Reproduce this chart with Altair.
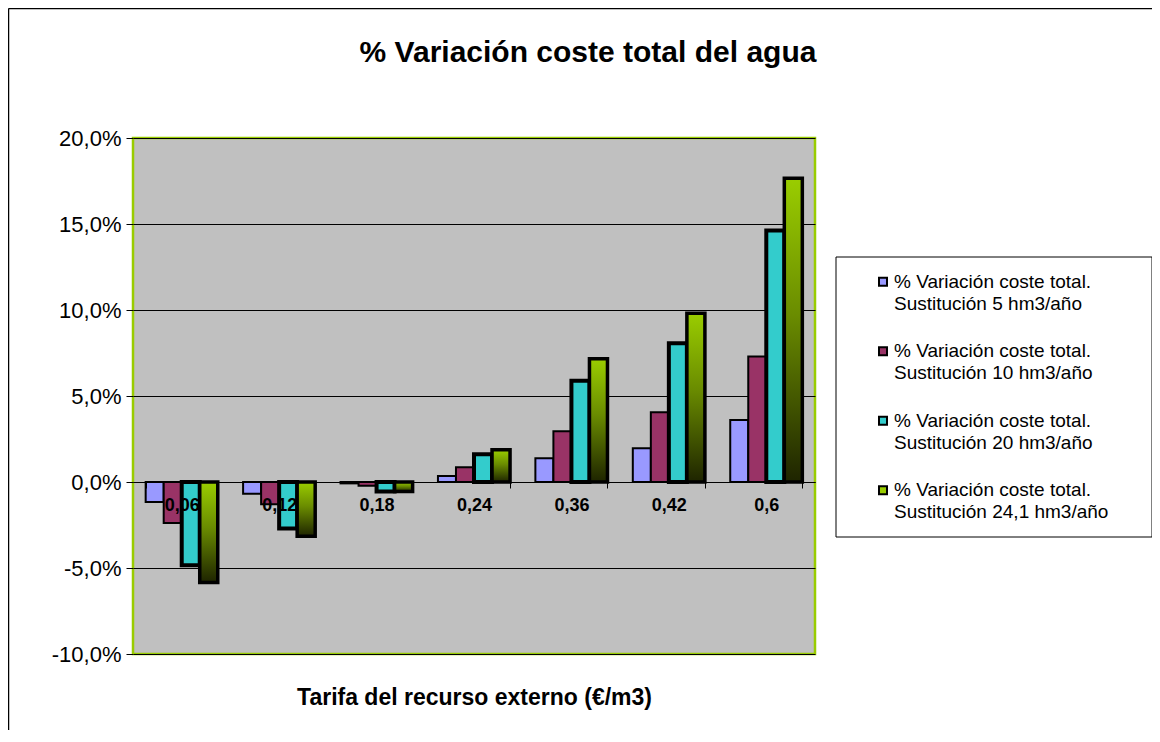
import altair as alt
import pandas as pd

# ---- data ----
tarifas = ["0,06", "0,12", "0,18", "0,24", "0,36", "0,42", "0,6"]
series = [
    "% Variación coste total. Sustitución 5 hm3/año",
    "% Variación coste total. Sustitución 10 hm3/año",
    "% Variación coste total. Sustitución 20 hm3/año",
    "% Variación coste total. Sustitución 24,1 hm3/año",
]
legend_text = [
    "% Variación coste total.|Sustitución 5 hm3/año",
    "% Variación coste total.|Sustitución 10 hm3/año",
    "% Variación coste total.|Sustitución 20 hm3/año",
    "% Variación coste total.|Sustitución 24,1 hm3/año",
]
s5 = [-1.16, -0.68, -0.08, 0.35, 1.38, 1.96, 3.60]
s10 = [-2.38, -1.30, -0.22, 0.86, 2.95, 4.06, 7.30]
s20 = [-4.84, -2.70, -0.55, 1.62, 5.88, 8.07, 14.62]
s24 = [-5.84, -3.15, -0.55, 1.87, 7.16, 9.81, 17.66]
y_ticks = [-0.10, -0.05, 0.0, 0.05, 0.10, 0.15, 0.20]

colors = ["#9999FF", "#993366", "#33CCCC", "#99CC00"]

rows = []
for name, vals in zip(series, [s5, s10, s20, s24]):
    for t, v in zip(tarifas, vals):
        rows.append({"tarifa": t, "serie": name, "valor": v / 100.0})
df = pd.DataFrame(rows)
leg = pd.DataFrame({"serie": series, "texto": legend_text, "orden": list(range(len(series)))})

FONT = "Liberation Sans"
W, H = 682, 516

x_axis = alt.Axis(
    title="Tarifa del recurso externo (€/m3)",
    orient="bottom",
    offset=-172,
    labelAngle=0,
    labelFont=FONT,
    labelFontSize=18,
    labelFontWeight="bold",
    labelColor="black",
    labelPadding=8,
    domainColor="black",
    domainWidth=1,
    tickColor="black",
    tickSize=6,
    tickBand="extent",
    titleFont=FONT,
    titleFontSize=23,
    titleFontWeight="bold",
    titleColor="black",
    titleY=215,
    titleBaseline="middle",
    zindex=1,
)
x_scale = alt.Scale(paddingInner=0.26, paddingOuter=0.13)
xoff_enc = alt.XOffset("serie:N", sort=series, scale=alt.Scale(domain=series, paddingInner=0))
y_scale = alt.Scale(domain=[-0.10, 0.20], nice=False, zero=False)
color_enc = alt.Color("serie:N", scale=alt.Scale(domain=series, range=colors), legend=None)

label_expr = "replace(replace(format(datum.value, '.1%'), '.', ','), '\u2212', '-')"

y_axis = alt.Axis(
    title=None,
    values=y_ticks,
    labelExpr=label_expr,
    labelFont=FONT,
    labelFontSize=22,
    labelColor="black",
    labelPadding=5,
    domain=False,
    tickColor="black",
    tickSize=7,
    grid=True,
    gridColor="black",
    gridWidth=1,
)

thin = alt.Chart(df).transform_filter(
    (alt.datum.serie == series[0]) | (alt.datum.serie == series[1])
).mark_bar(stroke="black", strokeWidth=2, opacity=1).encode(
    x=alt.X("tarifa:N", sort=tarifas, scale=x_scale, axis=x_axis),
    xOffset=xoff_enc,
    y=alt.Y("valor:Q", scale=y_scale, axis=y_axis),
    color=color_enc,
)

thick = alt.Chart(df).transform_filter(
    alt.datum.serie == series[2]
).mark_bar(stroke="black", strokeWidth=4, opacity=1).encode(
    x=alt.X("tarifa:N", sort=tarifas),
    xOffset=xoff_enc,
    y=alt.Y("valor:Q", scale=y_scale, axis=None),
    color=color_enc,
)

gradient = alt.LinearGradient(
    gradient="linear",
    stops=[
        alt.GradientStop(color="#9ACD00", offset=0),
        alt.GradientStop(color="#6A8C00", offset=0.45),
        alt.GradientStop(color="#1E2400", offset=1),
    ],
    x1=0, x2=0, y1=0, y2=1,
)

green = alt.Chart(df).transform_filter(
    alt.datum.serie == series[3]
).mark_bar(fill=gradient, stroke="black", strokeWidth=3.5, opacity=1).encode(
    x=alt.X("tarifa:N", sort=tarifas),
    xOffset=xoff_enc,
    y=alt.Y("valor:Q", scale=y_scale, axis=None),
)

# ---- legend (drawn as marks) ----
box = alt.Chart(pd.DataFrame({"a": [0]})).mark_rect(
    fill="white", stroke="black", strokeWidth=1
).encode(
    x=alt.value(703), x2=alt.value(1019), y=alt.value(119), y2=alt.value(399)
)

leg_y = alt.Y("orden:Q", scale=alt.Scale(domain=[-2.068, 5.356], reverse=True, nice=False, zero=False), axis=None)

leg_sym = alt.Chart(leg).mark_square(
    size=64, filled=True, stroke="black", strokeWidth=2, opacity=1
).encode(
    x=alt.value(750),
    y=leg_y,
    color=color_enc,
)

leg_txt = alt.Chart(leg).mark_text(
    align="left", baseline="middle", lineBreak="|", lineHeight=22,
    font=FONT, fontSize=19, color="black"
).encode(
    x=alt.value(761),
    y=leg_y,
    text="texto:N",
)

# outer frame (top and left edges visible in the reference)
frame_top = alt.Chart(pd.DataFrame({"a": [0]})).mark_rule(color="black", strokeWidth=1.5).encode(
    x=alt.value(-124.5), x2=alt.value(1030), y=alt.value(-129.5)
)
frame_left = alt.Chart(pd.DataFrame({"a": [0]})).mark_rule(color="black", strokeWidth=1.5).encode(
    x=alt.value(-124.5), y=alt.value(-129.5), y2=alt.value(600)
)

chart = alt.layer(thin, thick, green, box, leg_sym, leg_txt, frame_top, frame_left).resolve_scale(
    y="independent"
).properties(
    width=W,
    height=H,
    background="white",
    title=alt.TitleParams(
        "% Variación coste total del agua",
        font=FONT,
        fontSize=30,
        fontWeight="bold",
        color="black",
        anchor="middle",
        dx=114,
        offset=-60,
    ),
    autosize=alt.AutoSizeParams(type="none"),
    padding={"left": 125, "top": 130, "right": 337, "bottom": 76},
).configure_view(
    fill="#C0C0C0", stroke="#99CC00", strokeWidth=2.5
)

chart.save("out.html", embed_options={"renderer": "svg", "actions": False})
